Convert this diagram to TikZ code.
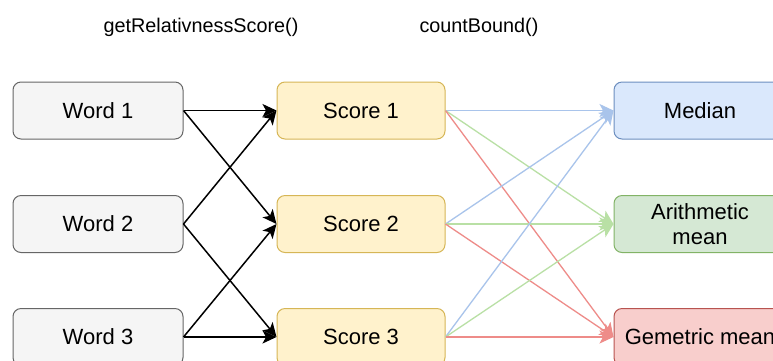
\documentclass[tikz,border=0pt]{standalone}
\usepackage{fontspec}
\setmainfont{Liberation Sans}
\usetikzlibrary{arrows.meta}
\definecolor{wordfill}{HTML}{F5F5F5}
\definecolor{wordline}{HTML}{666666}
\definecolor{scorefill}{HTML}{FFF2CC}
\definecolor{scoreline}{HTML}{D6B656}
\definecolor{medfill}{HTML}{DAE8FC}
\definecolor{medline}{HTML}{6C8EBF}
\definecolor{arfill}{HTML}{D5E8D4}
\definecolor{arline}{HTML}{82B366}
\definecolor{geofill}{HTML}{F8CECC}
\definecolor{geoline}{HTML}{B85450}
\definecolor{toblue}{HTML}{A9C4EB}
\definecolor{togreen}{HTML}{B9E0A5}
\definecolor{tored}{HTML}{EE8C89}
\tikzset{
  box/.style={rounded corners=8pt, line width=1pt, minimum height=57pt,
    inner sep=2pt, align=center, font=\fontsize{22}{25}\selectfont},
  wordbox/.style={box, draw=wordline, fill=wordfill, minimum width=170pt},
  scorebox/.style={box, draw=scoreline, fill=scorefill, minimum width=168pt},
  resbox/.style={box, minimum width=172pt},
  title/.style={font=\fontsize{19.8}{24}\selectfont},
  link/.style={line width=1.3pt, -{Stealth[length=14pt,width=13pt,inset=3.5pt]}},
}
\begin{document}
\begin{tikzpicture}[x=1pt,y=-1pt]
\clip (0,0) rectangle (773,360);
\fill[white] (0,0) rectangle (773,360);

% column headings
\node[title] (t1) at (201,27) {getRelativnessScore()};
\node[title] (t2) at (479,27) {countBound()};

% input words
\node[wordbox] (w1) at (98,110.5) {Word 1};
\node[wordbox] (w2) at (98,224) {Word 2};
\node[wordbox] (w3) at (98,337) {Word 3};

% scores
\node[scorebox] (s1) at (361,110.5) {Score 1};
\node[scorebox] (s2) at (361,224) {Score 2};
\node[scorebox] (s3) at (361,337) {Score 3};

% aggregated bounds
\node[resbox, draw=medline, fill=medfill] (m) at (700,110.5) {Median};
\node[resbox, draw=arline, fill=arfill] (a) at (700,224) {Arithmetic\\mean};
\node[resbox, draw=geoline, fill=geofill] (g) at (700,337) {Gemetric mean};

% words to scores
\foreach \i/\j in {1/1,1/2,2/1,2/3,3/2,3/3}
  \draw[link, black, line width=1.5pt] (w\i.east) -- (s\j.west);

% scores to bounds
\foreach \i in {1,2,3} {
  \draw[link, toblue]  (s\i.east) -- (m.west);
  \draw[link, togreen] (s\i.east) -- (a.west);
  \draw[link, tored]   (s\i.east) -- (g.west);
}
\end{tikzpicture}
\end{document}
